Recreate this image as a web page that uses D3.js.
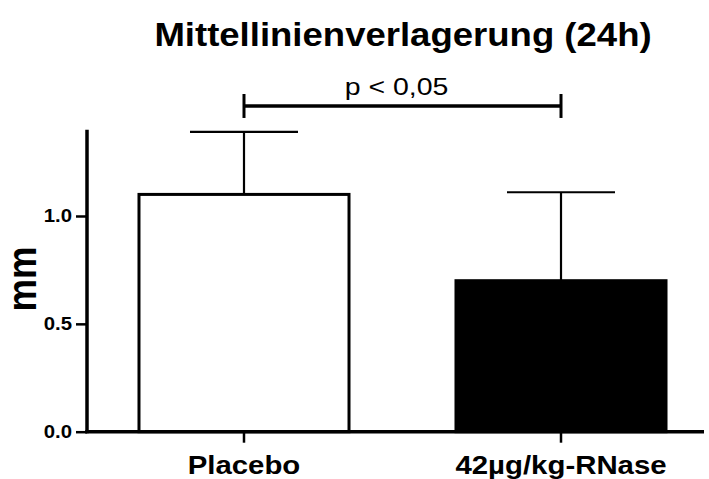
<!DOCTYPE html>
<html>
<head>
<meta charset="utf-8">
<script src="https://cdn.jsdelivr.net/npm/d3@7"></script>
<style>
  html, body { margin: 0; padding: 0; background: #fff; }
  svg { display: block; font-family: "Liberation Sans", Arial, Helvetica, sans-serif; }
</style>
</head>
<body>
<svg id="chart" width="709" height="479"></svg>
<script>
// Midline shift 24 h after treatment, mean ± SD
const categories = ["Placebo", "42µg/kg-RNase"];
const means = [1.10, 0.70];
const sds = [0.29, 0.41];
const yTicks = [0.0, 0.5, 1.0];
const barFills = ["#ffffff", "#000000"];
const titleText = "Mittellinienverlagerung (24h)";
const yLabel = "mm";
const sigLabel = "p < 0,05";
const sigLevel = 1.51;

// the figure's lettering is set slightly wide
const stretch = 1.13;

const svg = d3.select("#chart");
const x0 = 87, yBase = 431.7, yTop = 129.7, xEnd = 704;

const x = d3.scaleBand()
  .domain(categories)
  .range([x0, 718])
  .paddingInner(0.3375)
  .paddingOuter(0.164);

const y = d3.scaleLinear().domain([0, 1.4]).range([yBase, yTop]);

// Title
svg.append("text")
  .attr("transform", `translate(403,46) scale(${stretch * 0.98},1)`)
  .attr("text-anchor", "middle")
  .style("font-size", "33px").style("font-weight", "bold")
  .text(titleText);

// Y axis label
svg.append("text")
  .attr("transform", `translate(36,279) scale(${stretch},1) rotate(-90)`)
  .attr("text-anchor", "middle")
  .style("font-size", "36.5px").style("font-weight", "bold")
  .text(yLabel);

// Bars
const g = svg.append("g");
g.selectAll("rect.bar")
  .data(categories)
  .join("rect")
  .attr("class", "bar")
  .attr("x", d => x(d))
  .attr("y", (d, i) => y(means[i]))
  .attr("width", x.bandwidth())
  .attr("height", (d, i) => y(0) - y(means[i]))
  .attr("fill", (d, i) => barFills[i])
  .attr("stroke", "#000")
  .attr("stroke-width", 3);

// Error bars (upper whisker only)
const capHalf = 54;
categories.forEach((c, i) => {
  const cx = x(c) + x.bandwidth() / 2;
  g.append("line")
    .attr("x1", cx).attr("x2", cx)
    .attr("y1", y(means[i])).attr("y2", y(means[i] + sds[i]))
    .attr("stroke", "#000").attr("stroke-width", 2.2);
  g.append("line")
    .attr("x1", cx - capHalf).attr("x2", cx + capHalf)
    .attr("y1", y(means[i] + sds[i])).attr("y2", y(means[i] + sds[i]))
    .attr("stroke", "#000").attr("stroke-width", 2.2);
});

// Y axis
const yAxis = svg.append("g")
  .attr("transform", `translate(${x0},0)`)
  .call(d3.axisLeft(y).tickValues(yTicks).tickFormat(d3.format(".1f")).tickSize(11).tickPadding(4).tickSizeOuter(0));
yAxis.select(".domain").remove();
yAxis.append("line")
  .attr("x1", 0).attr("x2", 0)
  .attr("y1", y(1.4)).attr("y2", yBase + 1.5)
  .attr("stroke", "#000").attr("stroke-width", 3.5);
yAxis.selectAll(".tick line").attr("stroke", "#000").attr("stroke-width", 2.5);
yAxis.selectAll(".tick text")
  .attr("fill", "#000")
  .attr("x", -15 / stretch)
  .attr("transform", `scale(${stretch},1)`)
  .style("font-size", "18px").style("font-weight", "bold")
  .style("font-family", "'Liberation Sans', Arial, sans-serif");

// X axis
const xAxis = svg.append("g")
  .attr("transform", `translate(0,${yBase})`)
  .call(d3.axisBottom(x).tickSize(11).tickPadding(13).tickSizeOuter(0));
xAxis.select(".domain").remove();
xAxis.append("line")
  .attr("x1", x0 - 1.75).attr("x2", xEnd)
  .attr("y1", 0).attr("y2", 0)
  .attr("stroke", "#000").attr("stroke-width", 3.5);
xAxis.selectAll(".tick line").attr("stroke", "#000").attr("stroke-width", 2.5);
xAxis.selectAll(".tick text")
  .attr("fill", "#000")
  .attr("transform", `scale(${stretch},1)`)
  .style("font-size", "26px").style("font-weight", "bold")
  .style("font-family", "'Liberation Sans', Arial, sans-serif");

// Significance bracket
const sx1 = x(categories[0]) + x.bandwidth() / 2;
const sx2 = x(categories[1]) + x.bandwidth() / 2;
const sy = y(sigLevel);
svg.append("line")
  .attr("x1", sx1).attr("x2", sx2).attr("y1", sy).attr("y2", sy)
  .attr("stroke", "#000").attr("stroke-width", 3.5);
[sx1, sx2].forEach(sx => {
  svg.append("line")
    .attr("x1", sx).attr("x2", sx).attr("y1", sy - 12).attr("y2", sy + 12)
    .attr("stroke", "#000").attr("stroke-width", 3);
});
svg.append("text")
  .attr("transform", `translate(${(sx1 + sx2) / 2 - 6},${sy - 11}) scale(${stretch * 1.05},1)`)
  .attr("text-anchor", "middle")
  .style("font-size", "24px")
  .text(sigLabel);
</script>
</body>
</html>
